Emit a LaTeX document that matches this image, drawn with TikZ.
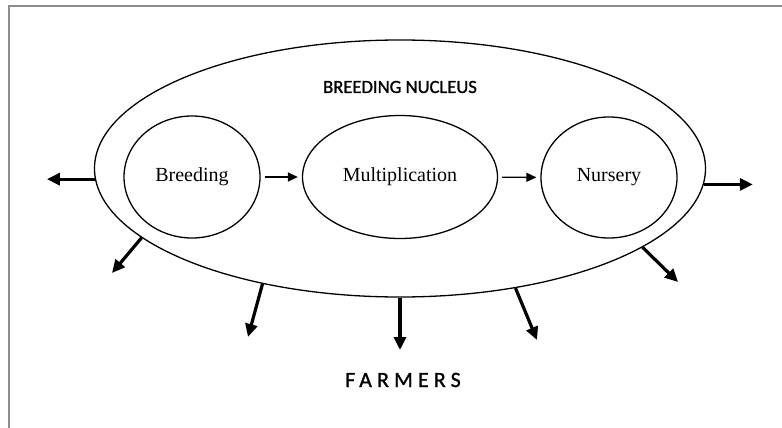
\documentclass[tikz,border=0pt]{standalone}
\usepackage{fontspec}
\setmainfont{Liberation Serif}
\newfontfamily\calibri[FakeBold=1.2]{Carlito}
\newfontfamily\farmfont[LetterSpace=24,FakeBold=1.2]{Carlito}
\usetikzlibrary{arrows.meta,shapes.geometric}
\definecolor{framegray}{rgb}{0.55,0.55,0.55}

\begin{document}
\begin{tikzpicture}[x=0.5pt,y=-0.5pt,
        stage/.style={draw,ellipse,inner sep=0pt,line width=0.65pt,font=\fontsize{10}{12}\selectfont},
        flow/.style={-{Triangle[length=5pt,width=4.5pt]},line width=0.7pt,shorten <=2pt,shorten >=2pt},
        spread/.style={-{Triangle[length=6.5pt,width=6pt]},line width=1.6pt}]
        \useasboundingbox (0,0) rectangle (782,428);
        % frame
        \draw[framegray,line width=0.9pt] (782,6) -- (9,6) -- (9,428);
        % nucleus
        \node[draw,ellipse,inner sep=0pt,line width=0.65pt,minimum width=305.5pt,minimum height=128.5pt] (nucleus) at (400,168.5) {};
        \node[font=\calibri\fontsize{9.3}{11}\selectfont] (title) at (400,87) {BREEDING NUCLEUS};
        % stages
        \node[stage,minimum width=68pt,minimum height=61pt] (breed) at (192,177) {Breeding};
        \node[stage,minimum width=97.5pt,minimum height=61.5pt] (multi) at (400,177) {Multiplication};
        \node[stage,minimum width=68pt,minimum height=60.5pt] (nurse) at (609,177.5) {Nursery};
        \draw[flow] (breed) -- (multi);
        \draw[flow] (multi) -- (nurse);
        % arrows to farmers
        \coordinate (tipW) at ([xshift=-24pt]nucleus.182.8);
        \coordinate (tipSW) at (112,273);
        \coordinate (tipS1) at (248,337);
        \coordinate (tipS2) at (400,350);
        \coordinate (tipS3) at (537,340);
        \coordinate (tipSE) at (678,282);
        \coordinate (tipE) at ([xshift=24.5pt]nucleus.357.2);
        \draw[spread] (nucleus.182.8) -- (tipW);
        \draw[spread] (nucleus.195.2) -- (tipSW);
        \draw[spread] (nucleus.220.8) -- (tipS1);
        \draw[spread] (nucleus.270) -- (tipS2);
        \draw[spread] (nucleus.314.9) -- (tipS3);
        \draw[spread] (nucleus.342.1) -- (tipSE);
        \draw[spread] (nucleus.357.2) -- (tipE);
        % text
        \node[font=\farmfont\fontsize{10.9}{13}\selectfont] (farmers) at (403,380) {FARMERS};
    \end{tikzpicture}
\end{document}
